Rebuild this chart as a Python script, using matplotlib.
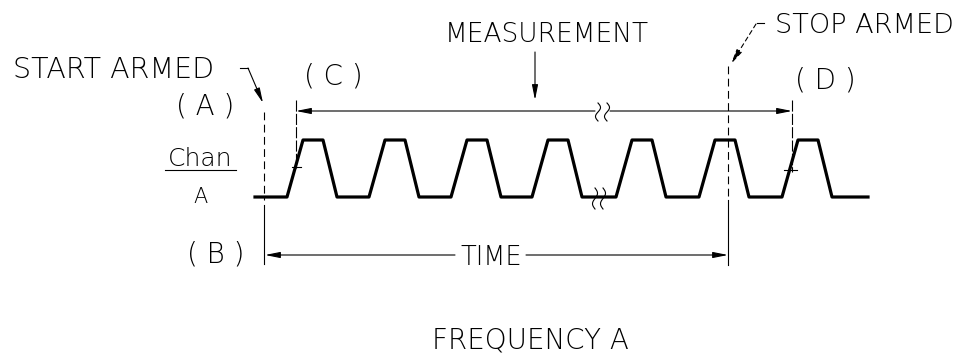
import numpy as np
import matplotlib
matplotlib.use("Agg")
import matplotlib.pyplot as plt

# Timing diagram data (x in diagram units, y levels of channel A)
pulse_rise = [287, 369, 451, 532, 616, 699, 782]   # where each pulse starts to rise
edge_rise, pulse_top, edge_fall = 16, 20, 14
wave_start, wave_end = 255, 868
level_low, level_high = 197, 140

start_armed_x = 264        # (A)/(B)
stop_armed_x = 728         # stop armed / end of TIME
meas_start_x, meas_end_x = 296, 792   # (C) and (D)
break_x = [595, 603]       # gap marks on the waveform
meas_break_x = [598, 607]  # gap marks on the measurement line

labels_top = ["START ARMED", "MEASUREMENT", "STOP ARMED"]

# build the waveform from the pulse edges
wx = [wave_start]
wy = [level_low]
for r in pulse_rise:
    wx += [r, r + edge_rise, r + edge_rise + pulse_top, r + edge_rise + pulse_top + edge_fall]
    wy += [level_low, level_high, level_high, level_low]
wx.append(wave_end)
wy.append(level_low)

fig = plt.figure(figsize=(9.67, 3.56), dpi=100)
ax = fig.add_axes([0, 0, 1, 1])
ax.set_xlim(0, 967)
ax.set_ylim(356, 0)
ax.axis("off")

fnt = dict(family="DejaVu Sans", fontweight="light", color="black")
thin = 0.8

ax.plot(wx, wy, color="black", lw=2.3, solid_joinstyle="round")


def squiggle(x, y0, y1, w=2.5):
    t = np.linspace(0, 1, 30)
    ax.plot(x + w * np.sin(2 * np.pi * t), y0 + (y1 - y0) * t, color="black", lw=thin)


def arrow(tip, tail):
    ax.annotate("", xy=tip, xytext=tail,
                arrowprops=dict(arrowstyle="-|>,head_length=0.9,head_width=0.18",
                                color="black", lw=thin, shrinkA=0, shrinkB=0))


# waveform break
for bx in break_x:
    squiggle(bx, 188, 209)

# measurement line with break
meas_y = 111
arrow((meas_start_x, meas_y), (meas_break_x[0] - 3, meas_y))
arrow((meas_end_x, meas_y), (meas_break_x[1] + 3, meas_y))
for bx in meas_break_x:
    squiggle(bx, 103, 121)
ax.plot([meas_start_x, meas_start_x], [100, 168], color="black", lw=thin, ls=(0, (10, 2)))
ax.plot([meas_start_x - 4, meas_start_x + 5], [167, 167], color="black", lw=thin)
ax.plot([meas_end_x, meas_end_x], [100, 172], color="black", lw=thin, ls=(0, (10, 2)))
ax.plot([meas_end_x - 8, meas_end_x + 5], [170, 170], color="black", lw=thin)

# start armed marker
ax.plot([start_armed_x, start_armed_x], [112, 200], color="black", lw=thin, ls=(0, (7, 4)))
ax.plot([start_armed_x, start_armed_x], [205, 264], color="black", lw=thin)
ax.plot([240, 248], [68, 68], color="black", lw=thin)
arrow((263, 103), (248, 68))

# stop armed marker
ax.plot([stop_armed_x, stop_armed_x], [66, 200], color="black", lw=thin, ls=(0, (7, 4)))
ax.plot([stop_armed_x, stop_armed_x], [200, 265], color="black", lw=thin)
ax.plot([757, 764], [23, 23], color="black", lw=thin)
ax.annotate("", xy=(731, 64), xytext=(756, 24),
            arrowprops=dict(arrowstyle="-|>,head_length=0.9,head_width=0.18",
                            color="black", lw=thin, ls=(0, (4, 3)), shrinkA=0, shrinkB=0))

# TIME line
time_y = 255
arrow((start_armed_x + 1, time_y), (455, time_y))
arrow((stop_armed_x, time_y), (526, time_y))
ax.text(491, 265, "TIME", ha="center", va="baseline", fontsize=18.5, **fnt)

# measurement arrow
arrow((535, 100), (535, 52))

# labels
ax.text(13, 78, labels_top[0], ha="left", va="baseline", fontsize=20.5, **fnt)
ax.text(547, 42, labels_top[1], ha="center", va="baseline", fontsize=19, **fnt)
ax.text(775, 33, labels_top[2], ha="left", va="baseline", fontsize=19.5, **fnt)
ax.text(205, 115, "( A )", ha="center", va="baseline", fontsize=20, **fnt)
ax.text(216, 263, "( B )", ha="center", va="baseline", fontsize=20, **fnt)
ax.text(333, 84, "( C )", ha="center", va="baseline", fontsize=20, **fnt)
ax.text(825, 89, "( D )", ha="center", va="baseline", fontsize=20, **fnt)
ax.text(200, 166, "Chan", ha="center", va="baseline", fontsize=18, **fnt)
ax.plot([165, 236], [170, 170], color="black", lw=thin)
ax.text(200, 203, "A", ha="center", va="baseline", fontsize=15, **fnt)
ax.text(530, 348, "FREQUENCY A", ha="center", va="baseline", fontsize=20, **fnt)

fig.savefig("out.png", dpi=100)
